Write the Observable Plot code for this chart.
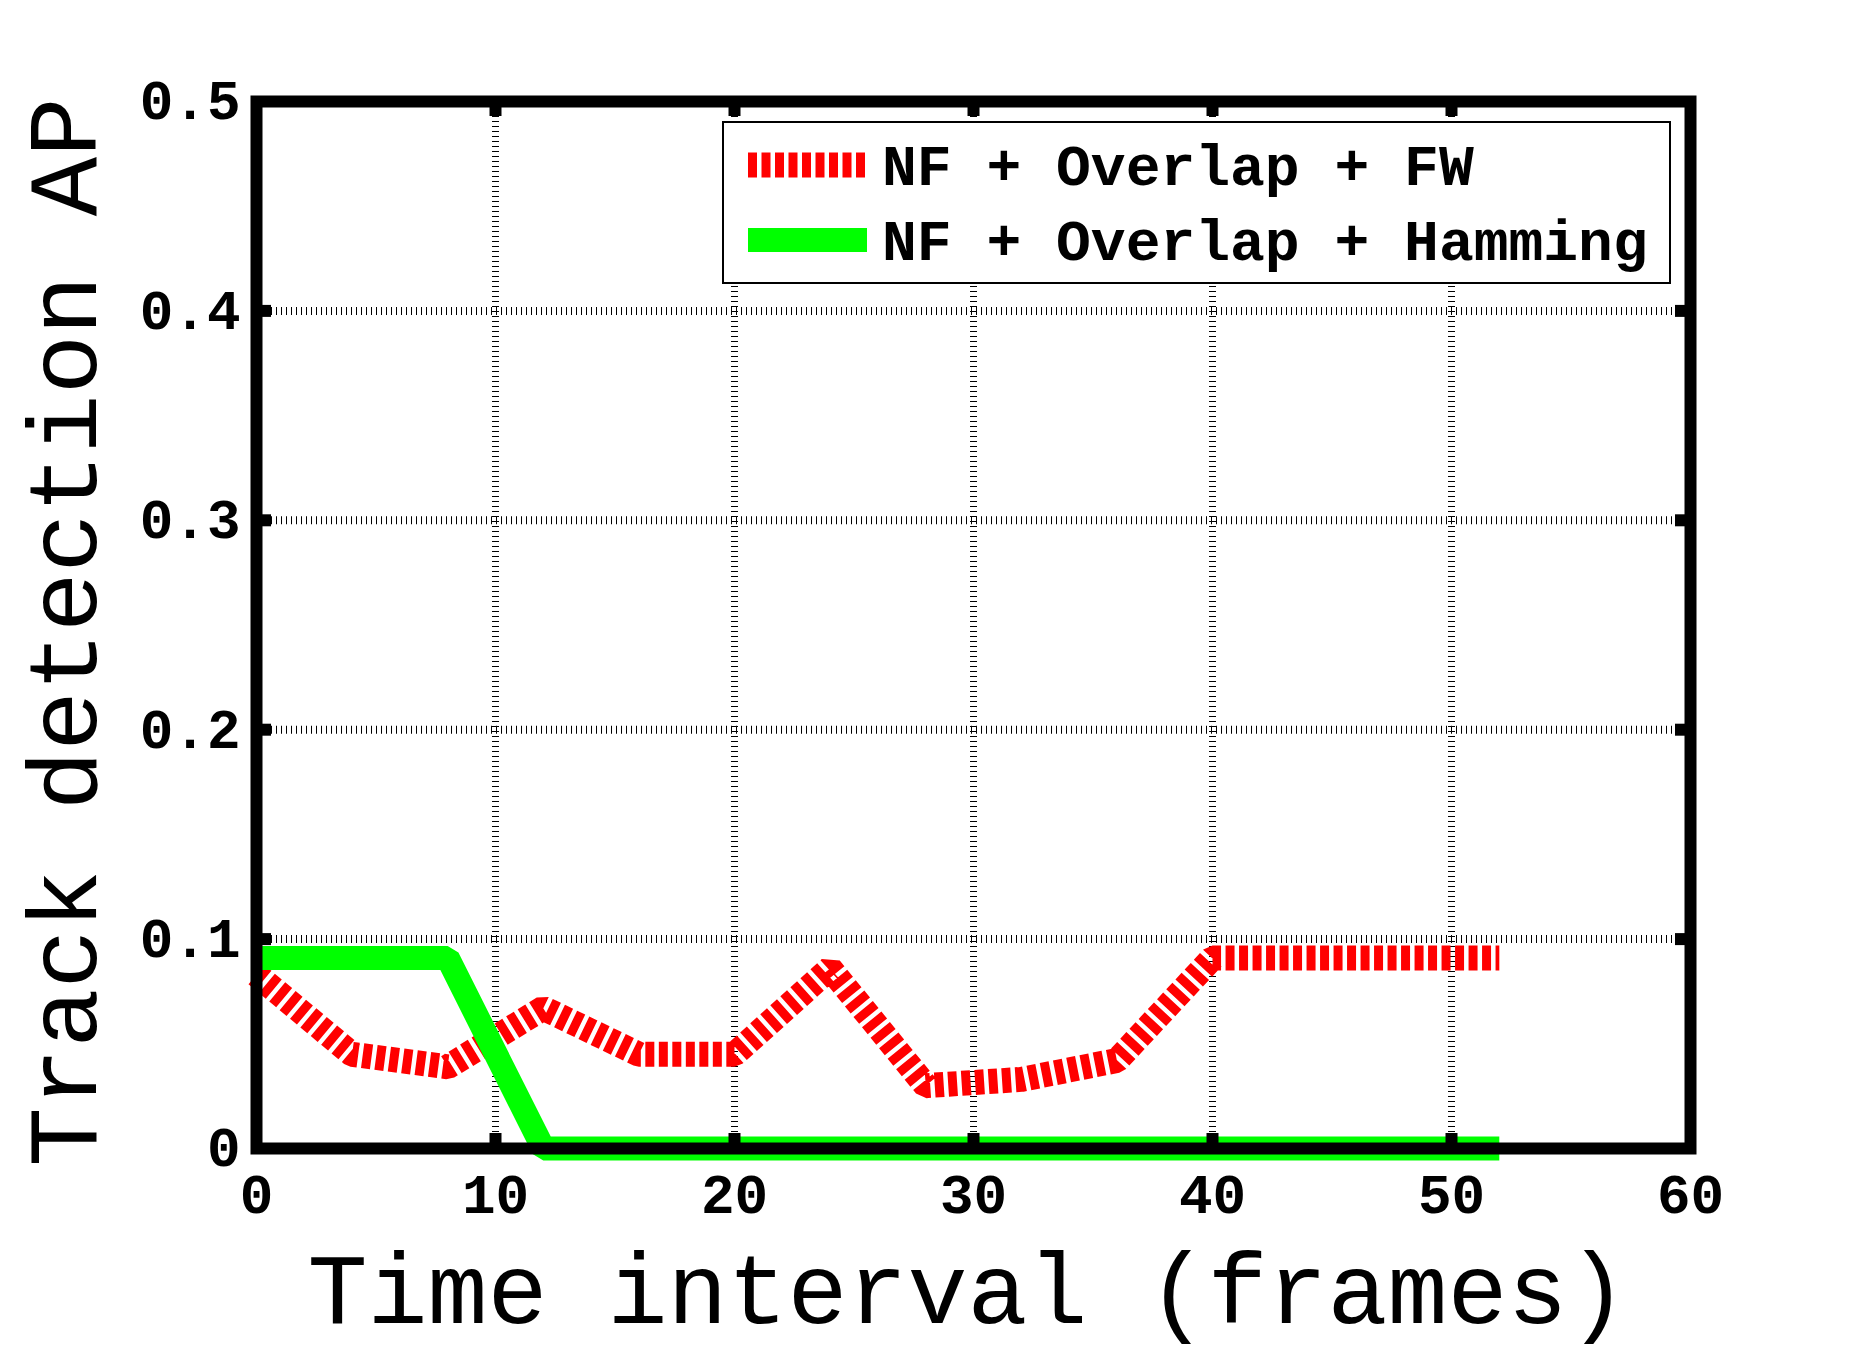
<!DOCTYPE html>
<html>
<head>
<meta charset="utf-8">
<script src="https://cdn.jsdelivr.net/npm/d3@7"></script>
<script src="https://cdn.jsdelivr.net/npm/@observablehq/plot@0.6"></script>
<style>
html, body { margin: 0; padding: 0; background: #fff; }
#chart { width: 1867px; height: 1350px; }
</style>
</head>
<body>
<div id="chart"></div>
<script>
// ---- data ----
const frames = [0, 4, 8, 12, 16, 20, 24, 28, 32, 36, 40, 44, 48, 52];
const apFW = [0.083, 0.045, 0.039, 0.067, 0.045, 0.045, 0.086, 0.030, 0.033, 0.042, 0.091, 0.091, 0.091, 0.091];
const apHamming = [0.091, 0.091, 0.091, 0, 0, 0, 0, 0, 0, 0, 0, 0, 0, 0];
const seriesNames = ["NF + Overlap + FW", "NF + Overlap + Hamming"];
const seriesColors = ["#ff0000", "#00ff00"];
const xTicks = [0, 10, 20, 30, 40, 50, 60];
const yTicks = [0, 0.1, 0.2, 0.3, 0.4, 0.5];
const xGrid = [10, 20, 30, 40, 50];
const yGrid = [0.1, 0.2, 0.3, 0.4];
const xTitle = "Time interval (frames)";
const yTitle = "Track detection AP";

// ---- layout ----
const W = 1867, H = 1350;
const mL = 256, mR = 177, mT = 101, mB = 202;
const innerW = W - mL - mR, innerH = H - mT - mB;
const mono = "'Liberation Mono', 'Courier New', monospace";
const redDash = "9,4.5";

const rows = frames.map((f, i) => ({frame: f, fw: apFW[i], ham: apHamming[i]}));

const svg = Plot.plot({
  width: W,
  height: H,
  marginLeft: mL,
  marginRight: mR,
  marginTop: mT,
  marginBottom: mB,
  style: {background: "#fff", fontFamily: mono, overflow: "visible", color: "#000"},
  x: {domain: [0, 60]},
  y: {domain: [0, 0.5]},
  marks: [
    Plot.ruleX(xGrid, {stroke: "#000", strokeWidth: 7, strokeDasharray: "1,4"}),
    Plot.ruleY(yGrid, {stroke: "#000", strokeWidth: 8, strokeDasharray: "1,4"}),
    Plot.line(rows, {x: "frame", y: "fw", stroke: seriesColors[0], strokeWidth: 25,
      strokeDasharray: redDash, strokeLinecap: "butt", strokeLinejoin: "miter"}),
    Plot.line(rows, {x: "frame", y: "ham", stroke: seriesColors[1], strokeWidth: 24,
      strokeLinecap: "butt", strokeLinejoin: "miter"}),
    Plot.tickX(xGrid, {stroke: "#000", strokeWidth: 12, insetTop: innerH - 15}),
    Plot.tickX(xGrid, {stroke: "#000", strokeWidth: 12, insetBottom: innerH - 15}),
    Plot.tickY(yGrid, {stroke: "#000", strokeWidth: 12, insetRight: innerW - 15}),
    Plot.tickY(yGrid, {stroke: "#000", strokeWidth: 12, insetLeft: innerW - 15}),
    Plot.frame({stroke: "#000", strokeWidth: 12}),
    Plot.axisX(xTicks, {tickSize: 0, tickPadding: 25, label: null, fontSize: 56,
      fontWeight: "bold", fontFamily: mono, tickFormat: d => String(d)}),
    Plot.axisY(yTicks, {tickSize: 0, tickPadding: 16, label: null, fontSize: 56,
      fontWeight: "bold", fontFamily: mono, tickFormat: d => String(d)}),
    Plot.text([xTitle], {text: d => d, frameAnchor: "bottom", lineAnchor: "middle",
      textAnchor: "middle", dx: -6, dy: 142, fontSize: 100, fontFamily: mono, fill: "#000"}),
    Plot.text([yTitle], {text: d => d, frameAnchor: "left", lineAnchor: "middle",
      textAnchor: "middle", rotate: -90, dx: -192, dy: 7, fontSize: 99, fontFamily: mono, fill: "#000"})
  ]
});

// ---- legend (inside the axes, top right) ----
const lg = d3.select(svg).append("g").attr("class", "legend");
lg.append("rect")
  .attr("x", 723).attr("y", 122).attr("width", 947).attr("height", 161)
  .attr("fill", "#fff").attr("stroke", "#000").attr("stroke-width", 2);
const legRowY = [165, 240];
seriesNames.forEach((name, i) => {
  lg.append("line")
    .attr("x1", 748).attr("x2", 867).attr("y1", legRowY[i]).attr("y2", legRowY[i])
    .attr("stroke", seriesColors[i]).attr("stroke-width", i === 0 ? 25 : 24)
    .attr("stroke-dasharray", i === 0 ? redDash : null)
    .attr("stroke-linecap", "butt");
  lg.append("text")
    .attr("x", 882).attr("y", legRowY[i]).attr("dy", "0.35em")
    .attr("text-anchor", "start")
    .attr("font-family", mono).attr("font-weight", "bold").attr("font-size", 58)
    .attr("fill", "#000")
    .text(name);
});

document.getElementById("chart").appendChild(svg);
</script>
</body>
</html>
